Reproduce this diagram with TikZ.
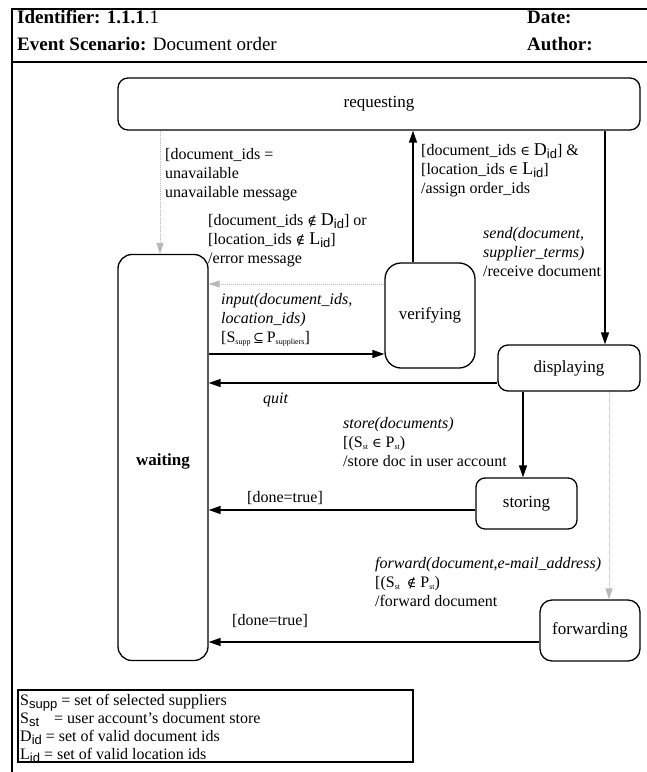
\documentclass[tikz,border=0pt]{standalone}
\usepackage{fontspec}
\setmainfont{Liberation Serif}
\newfontfamily\subfont{Liberation Sans}
\newfontfamily\symf{DejaVu Serif}
\usetikzlibrary{arrows.meta}

% subscripts: large sans ones for set names, tiny ones inside guards
\newcommand\bigsub[1]{\raisebox{-0.45ex}{\subfont\fontsize{13bp}{13bp}\selectfont #1}}
\newcommand\tinysub[1]{\raisebox{-0.35ex}{\fontsize{8bp}{8bp}\selectfont #1}}
\newcommand\setD{{\fontsize{18bp}{18bp}\selectfont D}}
\newcommand\setL{{\fontsize{18bp}{18bp}\selectfont L}}
% set relations as single glyphs
\newcommand\rel[1]{{\symf\fontsize{13bp}{13bp}\selectfont #1}}

\begin{document}
\begin{tikzpicture}[x=1bp,y=-1bp,
  state/.style={draw, line width=1.3bp, inner sep=0pt,
    font=\fontsize{17bp}{20bp}\selectfont},
  % multi-line labels are placed by the baseline of their last line
  lbl/.style={anchor=base west, align=left, inner sep=0pt,
    font=\fontsize{16bp}{19bp}\selectfont},
  head/.style={anchor=base west, inner sep=0pt,
    font=\fontsize{19bp}{22bp}\selectfont},
  flow/.style={line width=1.4bp, -{Triangle[length=12bp,width=8bp]}},
  weak/.style={draw=gray!55, line width=1bp, dash pattern=on 1bp off 1bp,
    -{Triangle[length=11bp,width=7bp,color=gray!55,fill=gray!55]}},
  frame/.style={line width=2.6bp}
]
\useasboundingbox (0,0) rectangle (647,772);

% sheet frame and header
\draw[frame] (647,9) -- (12,9) -- (12,772);
\draw[line width=2bp] (12,62) -- (647,62);
\node[head] (ident) at (17,24) {\textbf{Identifier: 1.1.1}.1};
\node[head] (scen) at (17,51) {\textbf{Event Scenario:} Document order};
\node[head] (date) at (527,24) {\textbf{Date:}};
\node[head] (auth) at (527,51) {\textbf{Author:}};

% states
\node[state, rounded corners=10bp, minimum width=522bp, minimum height=52bp]
  (req) at (379,104) {requesting};
\node[state, rounded corners=14bp, minimum width=90bp, minimum height=406bp]
  (wait) at (163,457.5) {\raisebox{-8bp}[0pt][0pt]{\textbf{waiting}}};
\node[state, rounded corners=16bp, minimum width=90bp, minimum height=105bp]
  (ver) at (430,315.5) {verifying};
\node[state, rounded corners=10bp, minimum width=142bp, minimum height=46bp]
  (disp) at (569,368) {displaying};
\node[state, rounded corners=9bp, minimum width=101bp, minimum height=51bp]
  (stor) at (526.5,503.5) {storing};
\node[state, rounded corners=12bp, minimum width=100bp, minimum height=61bp]
  (fwd) at (590,630.5) {forwarding};

% lanes of the connectors
\coordinate (xu) at (160,0);
\coordinate (xa) at (413,0);
\coordinate (xs) at (605,0);
\coordinate (xd) at (523,0);
\coordinate (xf) at (609,0);
\coordinate (ye) at (0,284);
\coordinate (yi) at (0,354);
\coordinate (yq) at (0,383);
\coordinate (yt) at (0,510);
\coordinate (yw) at (0,642);

% transitions
\draw[weak] (req.south -| xu) -- (wait.north -| xu);
\draw[flow] (ver.north -| xa) -- (req.south -| xa);
\draw[flow] (req.south -| xs) -- (disp.north -| xs);
\draw[weak] (ver.west |- ye) -- (wait.east |- ye);
\draw[flow] (wait.east |- yi) -- (ver.west |- yi);
\draw[flow] (disp.west |- yq) -- (wait.east |- yq);
\draw[flow] (disp.south -| xd) -- (stor.north -| xd);
\draw[flow] (stor.west |- yt) -- (wait.east |- yt);
\draw[weak] (disp.south -| xf) -- (fwd.north -| xf);
\draw[flow] (fwd.west |- yw) -- (wait.east |- yw);

% transition labels
\node[lbl] (l-unav) at (165,197)
  {[document\_ids =\\unavailable\\unavailable message};
\node[lbl] (l-assign) at (421,193)
  {[document\_ids \rel{∈} \setD\bigsub{id}] \&\\{[}location\_ids \rel{∈} \setL\bigsub{id}]\\/assign order\_ids};
\node[lbl] (l-err) at (208,263)
  {[document\_ids \rel{∉} \setD\bigsub{id}] or\\{[}location\_ids \rel{∉} \setL\bigsub{id}]\\/error message};
\node[lbl] (l-send) at (483,276)
  {\textit{send(document,}\\\textit{supplier\_terms)}\\/receive document};
\node[lbl] (l-input) at (221,342)
  {\textit{input(document\_ids,}\\\textit{location\_ids)}\\{[}S\tinysub{supp}\,\rel{⊆}\,P\tinysub{suppliers}]};
\node[lbl] (l-quit) at (263,403) {\textit{quit}};
\node[lbl] (l-store) at (343,466)
  {\textit{store(documents)}\\{[}(S\tinysub{st} \rel{∈} P\tinysub{st})\\/store doc in user account};
\node[lbl] (l-done1) at (247,502) {[done=true]};
\node[lbl] (l-fwd) at (375,606)
  {\textit{forward(document,e-mail\_address)}\\{[}(S\tinysub{st}\, \rel{∉} P\tinysub{st})\\/forward document};
\node[lbl] (l-done2) at (232,625) {[done=true]};

% legend of the sets
\draw[line width=1.3bp] (18,690) rectangle (413,762);
\node[lbl] (g1) at (20,705) {S\bigsub{supp} = set of selected suppliers};
\node[lbl] (g2) at (20,723) {S\bigsub{st}\hspace{11bp} = user account's document store};
\node[lbl] (g3) at (20,741) {D\bigsub{id} = set of valid document ids};
\node[lbl] (g4) at (20,759) {L\bigsub{id} = set of valid location ids};
\end{tikzpicture}
\end{document}
